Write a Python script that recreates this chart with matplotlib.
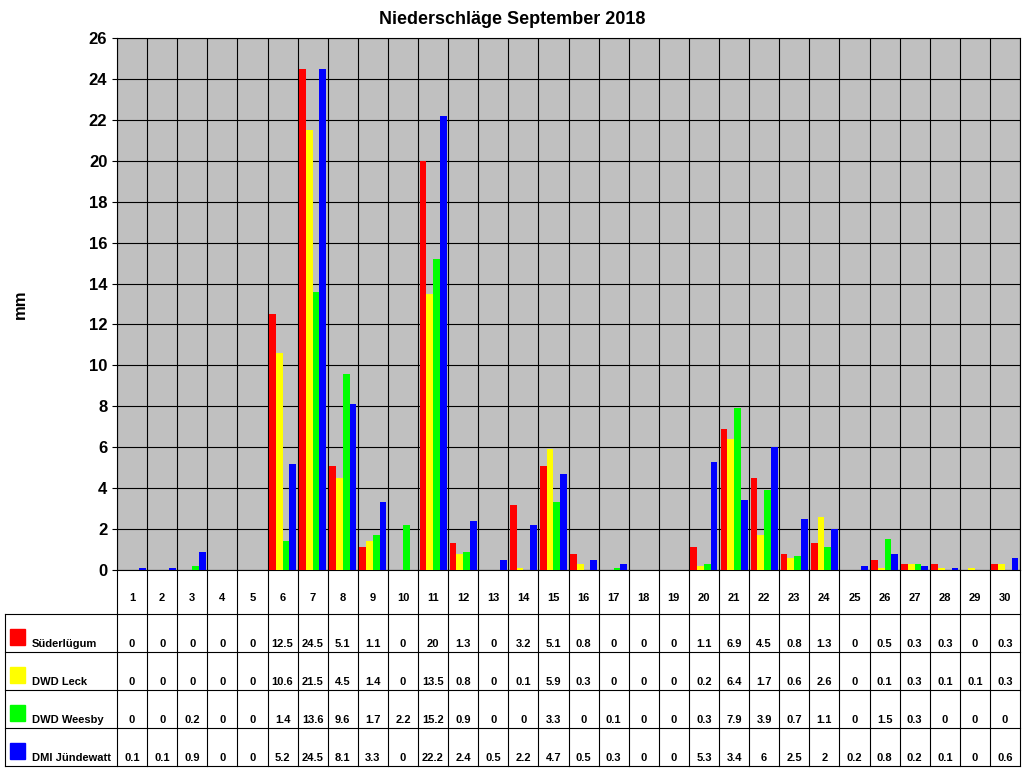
import numpy as np
import matplotlib.pyplot as plt
from matplotlib.lines import Line2D
from matplotlib.patches import Rectangle

days = list(range(1, 31))
sued = [0, 0, 0, 0, 0, 12.5, 24.5, 5.1, 1.1, 0, 20, 1.3, 0, 3.2, 5.1, 0.8, 0, 0, 0, 1.1,
        6.9, 4.5, 0.8, 1.3, 0, 0.5, 0.3, 0.3, 0, 0.3]
leck = [0, 0, 0, 0, 0, 10.6, 21.5, 4.5, 1.4, 0, 13.5, 0.8, 0, 0.1, 5.9, 0.3, 0, 0, 0, 0.2,
        6.4, 1.7, 0.6, 2.6, 0, 0.1, 0.3, 0.1, 0.1, 0.3]
weesby = [0, 0, 0.2, 0, 0, 1.4, 13.6, 9.6, 1.7, 2.2, 15.2, 0.9, 0, 0, 3.3, 0, 0.1, 0, 0, 0.3,
          7.9, 3.9, 0.7, 1.1, 0, 1.5, 0.3, 0, 0, 0]
juende = [0.1, 0.1, 0.9, 0, 0, 5.2, 24.5, 8.1, 3.3, 0, 22.2, 2.4, 0.5, 2.2, 4.7, 0.5, 0.3, 0, 0, 5.3,
          3.4, 6, 2.5, 2, 0.2, 0.8, 0.2, 0.1, 0, 0.6]
series = [("Süderlügum", sued, "#FF0000"), ("DWD Leck", leck, "#FFFF00"),
          ("DWD Weesby", weesby, "#00FF00"), ("DMI Jündewatt", juende, "#0000FF")]

W, H = 1024, 768
fig = plt.figure(figsize=(W / 100, H / 100), dpi=100)
plt.rcParams['font.family'] = ['Liberation Sans', 'DejaVu Sans']

x0, x1, y0, y1 = 117, 1020, 38, 570
ax = fig.add_axes([x0 / W, 1 - y1 / H, (x1 - x0) / W, (y1 - y0) / H])
ax.set_facecolor("#C0C0C0")
n = len(days)
bw = 0.225
for k, (name, vals, col) in enumerate(series):
    ax.bar(np.arange(n) + 0.05 + (k + 0.5) * bw, vals, width=bw, color=col, zorder=3)
ax.set_xlim(0, n)
ax.set_ylim(0, 26)
ax.set_yticks(range(0, 27, 2))
ax.set_xticks(range(n + 1))
ax.set_xticklabels([])
ax.tick_params(axis="x", length=0)
ax.tick_params(axis="y", labelsize=12)
for lab in ax.get_yticklabels():
    lab.set_fontweight("bold")
ax.grid(True, color="black", linewidth=0.8, zorder=0)
for s in ax.spines.values():
    s.set_color("black")
fig.text(20 / W, 1 - 304 / H, "mm", rotation=90, ha="center", va="center",
         fontsize=12, fontweight="bold")
fig.text(0.5, 1 - 20 / H, "Niederschläge September 2018", ha="center", va="center",
         fontsize=13, fontweight="bold")

# table
def fx(px):
    return px / W

def fy(py):
    return 1 - py / H

colw = (x1 - x0) / n
rows = [570, 614, 652, 690, 728, 766]
for yy in rows[1:]:
    fig.add_artist(Line2D([fx(5), fx(x1)], [fy(yy), fy(yy)], color="black", lw=0.8))
fig.add_artist(Line2D([fx(5), fx(5)], [fy(614), fy(766)], color="black", lw=0.8))
for i in range(n + 1):
    xx = x0 + i * colw
    fig.add_artist(Line2D([fx(xx), fx(xx)], [fy(570), fy(766)], color="black", lw=0.8))
for i, d in enumerate(days):
    fig.text(fx(x0 + (i + 0.5) * colw), fy(598), str(d), ha="center", va="center",
             fontsize=8, fontweight="bold")
for r, (name, vals, col) in enumerate(series):
    ytop, ybot = rows[r + 1], rows[r + 2]
    fig.add_artist(Rectangle((fx(10), fy(ytop + 31)), 15 / W, 16 / H, color=col,
                             transform=fig.transFigure))
    fig.text(fx(32), fy(ybot - 8), name, ha="left", va="center", fontsize=8, fontweight="bold")
    for i, v in enumerate(vals):
        fig.text(fx(x0 + (i + 0.5) * colw), fy(ybot - 8), f"{v:g}", ha="center", va="center",
                 fontsize=8, fontweight="bold")

fig.savefig("out.png", dpi=100)
